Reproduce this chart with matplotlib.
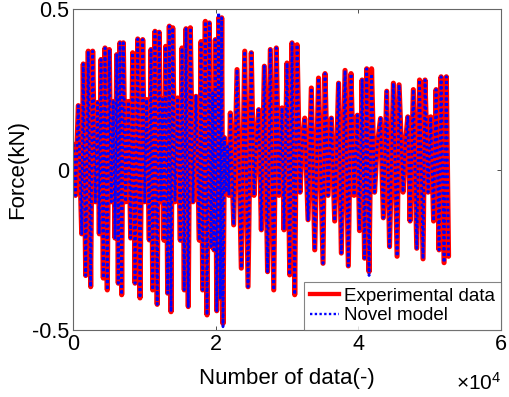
import matplotlib
matplotlib.use("Agg")
import matplotlib.pyplot as plt
from matplotlib.lines import Line2D

plt.rcParams['font.family'] = ['Liberation Sans', 'DejaVu Sans']
plt.rcParams['mathtext.fontset'] = 'custom'
plt.rcParams['mathtext.rm'] = 'Liberation Sans'
plt.rcParams['mathtext.it'] = 'Liberation Sans'

# Turning points of the force signal (data index, force in kN)
turn_index = [
    0, 310, 700, 1180, 1400, 1740, 2100, 2440, 2720, 3090,
    3420, 3650, 3890, 4210, 4450, 4770, 5050, 5330,
    5610, 5850, 6090, 6310, 6550, 6790, 7020, 7350,
    7720, 8050, 8330, 8660, 9040, 9360, 9740, 10020,
    10300, 10660, 10900, 11140, 11460, 11770, 12050, 12300,
    12520, 12730, 12960, 13240, 13470, 13710, 13950, 14270,
    14650, 15010, 15250, 15570, 15810, 16130, 16420, 16790,
    17210, 17680, 17920, 18150, 18520, 18760, 19080, 19320,
    19560, 19740, 19920, 20120, 20400, 20620, 20820, 21000, 21210, 21420, 21630, 21840,
    22030, 22500, 22970, 23570, 24050, 24510, 24970, 25350, 25670,
    26010, 26380, 26800, 27250, 27640, 28120, 28480, 28860,
    29280, 29560, 29980, 30360, 30680, 31060, 31390, 31810, 32090,
    32470, 32930, 33390, 33870, 34400, 35030, 35310, 35740,
    36200, 36670, 37210, 37600, 38120, 38580, 38960, 39380,
    39850, 40150, 40510, 40860, 41160, 41490, 41840, 42260, 42610,
    43100, 43490, 43970, 44360, 44900, 45420, 45700, 46260, 46540,
    46920, 47240, 47700, 48180, 48570, 49060, 49340, 49770,
    50140, 50540, 50890, 51310, 51590, 52010, 52330, 52640,
]
exp_force = [
    0.08, -0.08, 0.20, -0.20, 0.33, -0.33, 0.37, -0.365, 0.37, -0.10,
    0.21, -0.20, 0.344, -0.338, 0.38, -0.375, 0.375, -0.10,
    0.213, -0.213, 0.359, -0.354, 0.396, -0.39, 0.396, -0.10,
    0.213, -0.213, 0.365, -0.354, 0.408, -0.40, 0.406, -0.10,
    0.219, -0.219, 0.375, -0.375, 0.432, -0.42, 0.429, -0.10,
    0.22, -0.22, 0.385, -0.385, 0.448, -0.443, 0.443, -0.10,
    0.224, -0.22, 0.38, -0.375, 0.44, -0.427, 0.443, -0.10,
    0.229, -0.22, 0.40, -0.375, 0.463, -0.453, 0.458, -0.24,
    0.24, -0.25, 0.406, -0.44, 0.474, -0.40, 0.474, -0.48, 0.10, -0.07, 0.073, -0.08,
    0.177, -0.172, 0.3125, -0.307, 0.37, -0.365, 0.365, -0.08, 0.08,
    0.1875, -0.1875, 0.323, -0.318, 0.375, -0.375, 0.38, -0.08,
    0.193, -0.1875, 0.333, -0.328, 0.396, -0.39, 0.39, -0.07, 0.07,
    0.161, -0.156, 0.255, -0.25, 0.286, -0.292, 0.30, -0.08,
    0.161, -0.16, 0.27, -0.26, 0.31, -0.30, 0.30, -0.08,
    0.17, -0.19, 0.28, -0.276, 0.315, -0.318, 0.315, -0.07, 0.07,
    0.16, -0.15, 0.245, -0.24, 0.27, -0.27, 0.265, -0.07, 0.07,
    0.165, -0.16, 0.25, -0.245, 0.28, -0.278, 0.28, -0.07,
    0.165, -0.16, 0.25, -0.25, 0.29, -0.29, 0.29, -0.27,
]
# Model values: equal to the experiment except where the blue line visibly departs
model_force = list(exp_force)
model_overrides = {20400: 0.49, 21000: -0.49, 41490: -0.33, 41840: 0.30}
for k, v in model_overrides.items():
    model_force[turn_index.index(k)] = v

x_ticks = [0, 20000, 40000, 60000]
x_tick_labels = ['0', '2', '4', '6']
y_ticks = [-0.5, 0, 0.5]
y_tick_labels = ['-0.5', '0', '0.5']

fig = plt.figure(figsize=(5.10, 3.97), dpi=100)
ax = fig.add_axes([0.1437, 0.1688, 0.8387, 0.8073])

ax.plot(turn_index, exp_force, color='#ff0000', lw=3.7, solid_joinstyle='round',
        solid_capstyle='round')
ax.plot(turn_index, model_force, color='#0000ff', lw=2.0, linestyle=(0, (1, 1)))

ax.set_xlim(0, 60000)
ax.set_ylim(-0.5, 0.5)
ax.set_xticks(x_ticks)
ax.set_xticklabels(x_tick_labels)
ax.set_yticks(y_ticks)
ax.set_yticklabels(y_tick_labels)
ax.tick_params(direction='in', length=3, width=0.6, colors='#333333', labelcolor='black',
               labelsize=15.5, top=True, right=True, pad=3)
for s in ax.spines.values():
    s.set_color('#666666')
    s.set_linewidth(0.8)

ax.set_xlabel('Number of data(-)', fontsize=16, labelpad=9)
ax.set_ylabel('Force(kN)', fontsize=16, labelpad=3)
fig.text(0.984, 0.008, r'$\times\mathregular{10^{4}}$', ha='right', va='bottom', fontsize=15)

handles = [Line2D([], [], color='#ff0000', lw=3.1),
           Line2D([], [], color='#0000ff', lw=1.7, linestyle=(0, (1, 1)))]
leg = ax.legend(handles, ['Experimental data', 'Novel model'], loc='lower right',
                bbox_to_anchor=(1.0, 0.0), fontsize=13.5, frameon=True, fancybox=False,
                borderaxespad=0, handlelength=1.55, handletextpad=0.3, borderpad=0.3,
                labelspacing=0.15, handleheight=0.6)
leg.get_frame().set_edgecolor('#666666')
leg.get_frame().set_linewidth(0.8)

fig.savefig('out.png', dpi=100)
